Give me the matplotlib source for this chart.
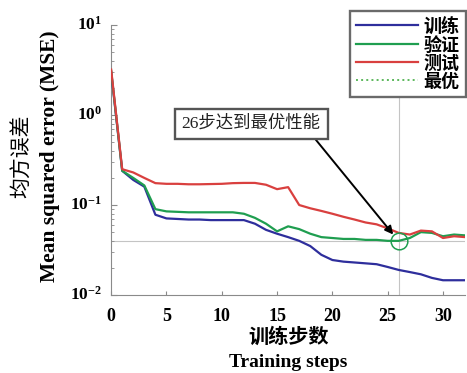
import matplotlib
matplotlib.use("Agg")
import matplotlib.pyplot as plt
from matplotlib.lines import Line2D
from matplotlib.ticker import LogLocator, FixedLocator
import numpy as np

plt.rcParams['font.family'] = ['Liberation Serif', 'Noto Sans CJK SC']
plt.rcParams['mathtext.fontset'] = 'custom'
plt.rcParams['mathtext.rm'] = 'Liberation Serif'
plt.rcParams['mathtext.bf'] = 'Liberation Serif:bold'

# Performance per training epoch
epochs = list(range(0, 33))
train_mse = [3.0, 0.24, 0.19, 0.16, 0.078, 0.071, 0.070, 0.069, 0.069, 0.068,
             0.068, 0.068, 0.068, 0.062, 0.053, 0.048, 0.044, 0.040, 0.035, 0.028,
             0.0245, 0.0235, 0.023, 0.0225, 0.022, 0.0205, 0.019, 0.018, 0.017,
             0.0155, 0.0146, 0.0146, 0.0146]
valid_mse = [3.1, 0.24, 0.20, 0.165, 0.090, 0.085, 0.084, 0.083, 0.083, 0.083,
             0.083, 0.083, 0.080, 0.072, 0.062, 0.051, 0.058, 0.054, 0.048, 0.044,
             0.043, 0.042, 0.042, 0.041, 0.041, 0.040, 0.040, 0.043, 0.050,
             0.049, 0.045, 0.047, 0.046]
test_mse = [3.2, 0.25, 0.23, 0.20, 0.175, 0.172, 0.172, 0.170, 0.170, 0.171,
            0.172, 0.175, 0.176, 0.176, 0.168, 0.150, 0.158, 0.100, 0.092, 0.086,
            0.080, 0.074, 0.069, 0.064, 0.061, 0.055, 0.049, 0.047, 0.052,
            0.051, 0.043, 0.045, 0.044]
series_names = ['训练', '验证', '测试', '最优']
best_epoch = 26
best_value = 0.040
note_text = '26步达到最优性能'
xticks = [0, 5, 10, 15, 20, 25, 30]

c_train = '#2e2e9c'
c_valid = '#1f9e50'
c_test = '#d9403f'
c_best = '#c4c4c4'

fig = plt.figure(figsize=(4.67, 3.73), dpi=100)
ax = fig.add_axes([0.238, 0.209, 0.758, 0.724])

ax.axvline(best_epoch, color=c_best, lw=0.8, zorder=1)
ax.axhline(best_value, color=c_best, lw=0.8, zorder=1)

ax.plot(epochs, train_mse, color=c_train, lw=1.6, zorder=3)
ax.plot(epochs, valid_mse, color=c_valid, lw=1.6, zorder=3)
ax.plot(epochs, test_mse, color=c_test, lw=1.6, zorder=3)
ax.plot([best_epoch], [best_value], 'o', mfc='none', mec=c_valid, ms=12, mew=1.1, zorder=4)

ax.set_yscale('log')
ax.set_xlim(0, 32)
ax.set_ylim(1e-2, 1e1)
ax.xaxis.set_major_locator(FixedLocator(xticks))
ax.yaxis.set_major_locator(LogLocator(base=10, numticks=10))
ax.yaxis.set_minor_locator(LogLocator(base=10, subs=np.arange(2, 10), numticks=10))
ax.set_yticklabels([])
ax.set_xticklabels([str(t) for t in xticks], fontweight='bold', fontsize=13)
for val, lab in zip([1e-2, 1e-1, 1e0, 1e1], ['-2', '-1', '0', '1']):
    ax.text(-0.025, val, r'$\mathbf{10^{%s}}$' % lab, transform=ax.get_yaxis_transform(),
            ha='right', va='center', fontsize=12.5)

for s in ['top', 'right']:
    ax.spines[s].set_visible(False)
for s in ['left', 'bottom']:
    ax.spines[s].set_color('#8a8a8a')
    ax.spines[s].set_linewidth(0.8)
ax.tick_params(axis='both', which='both', direction='in', colors='#8a8a8a', labelcolor='black')
ax.tick_params(axis='y', which='major', length=4)
ax.tick_params(axis='y', which='minor', length=2)
ax.tick_params(axis='x', which='major', length=3, pad=9)

ax.annotate(note_text, xy=(25.5, 0.047), xytext=(12.65, 0.8),
            ha='center', va='center', fontsize=12.5, color='#222222',
            bbox=dict(boxstyle='square,pad=0.4', fc='white', ec='#555555', lw=1.7),
            arrowprops=dict(arrowstyle='-|>', color='black', lw=1.4, relpos=(0.92, 0.0),
                            shrinkA=0, shrinkB=0, mutation_scale=12),
            zorder=6)

handles = [Line2D([], [], color=c_train, lw=1.6),
           Line2D([], [], color=c_valid, lw=1.6),
           Line2D([], [], color=c_test, lw=1.6),
           Line2D([], [], color='#5cb85c', lw=1.4, ls=':')]
leg = fig.legend(handles, series_names, loc='upper right', bbox_to_anchor=(0.997, 0.97),
                 bbox_transform=fig.transFigure, fancybox=False, handlelength=3.4,
                 prop={'weight': 'bold', 'size': 13}, labelspacing=0.05,
                 borderpad=0.35, handletextpad=0.3, borderaxespad=0.0, framealpha=1)
leg.get_frame().set_edgecolor('#6a6a6a')
leg.get_frame().set_linewidth(1.7)

fig.text(0.048, 0.582, '均方误差', rotation=90, ha='center', va='center', fontsize=15)
fig.text(0.107, 0.582, 'Mean squared error (MSE)', rotation=90, ha='center', va='center',
         fontsize=15.5, fontweight='bold')
fig.text(0.617, 0.094, '训练步数', ha='center', va='center', fontsize=14.5, fontweight='bold')
fig.text(0.617, 0.028, 'Training steps', ha='center', va='center', fontsize=14, fontweight='bold')

fig.savefig('out.png', dpi=100)
